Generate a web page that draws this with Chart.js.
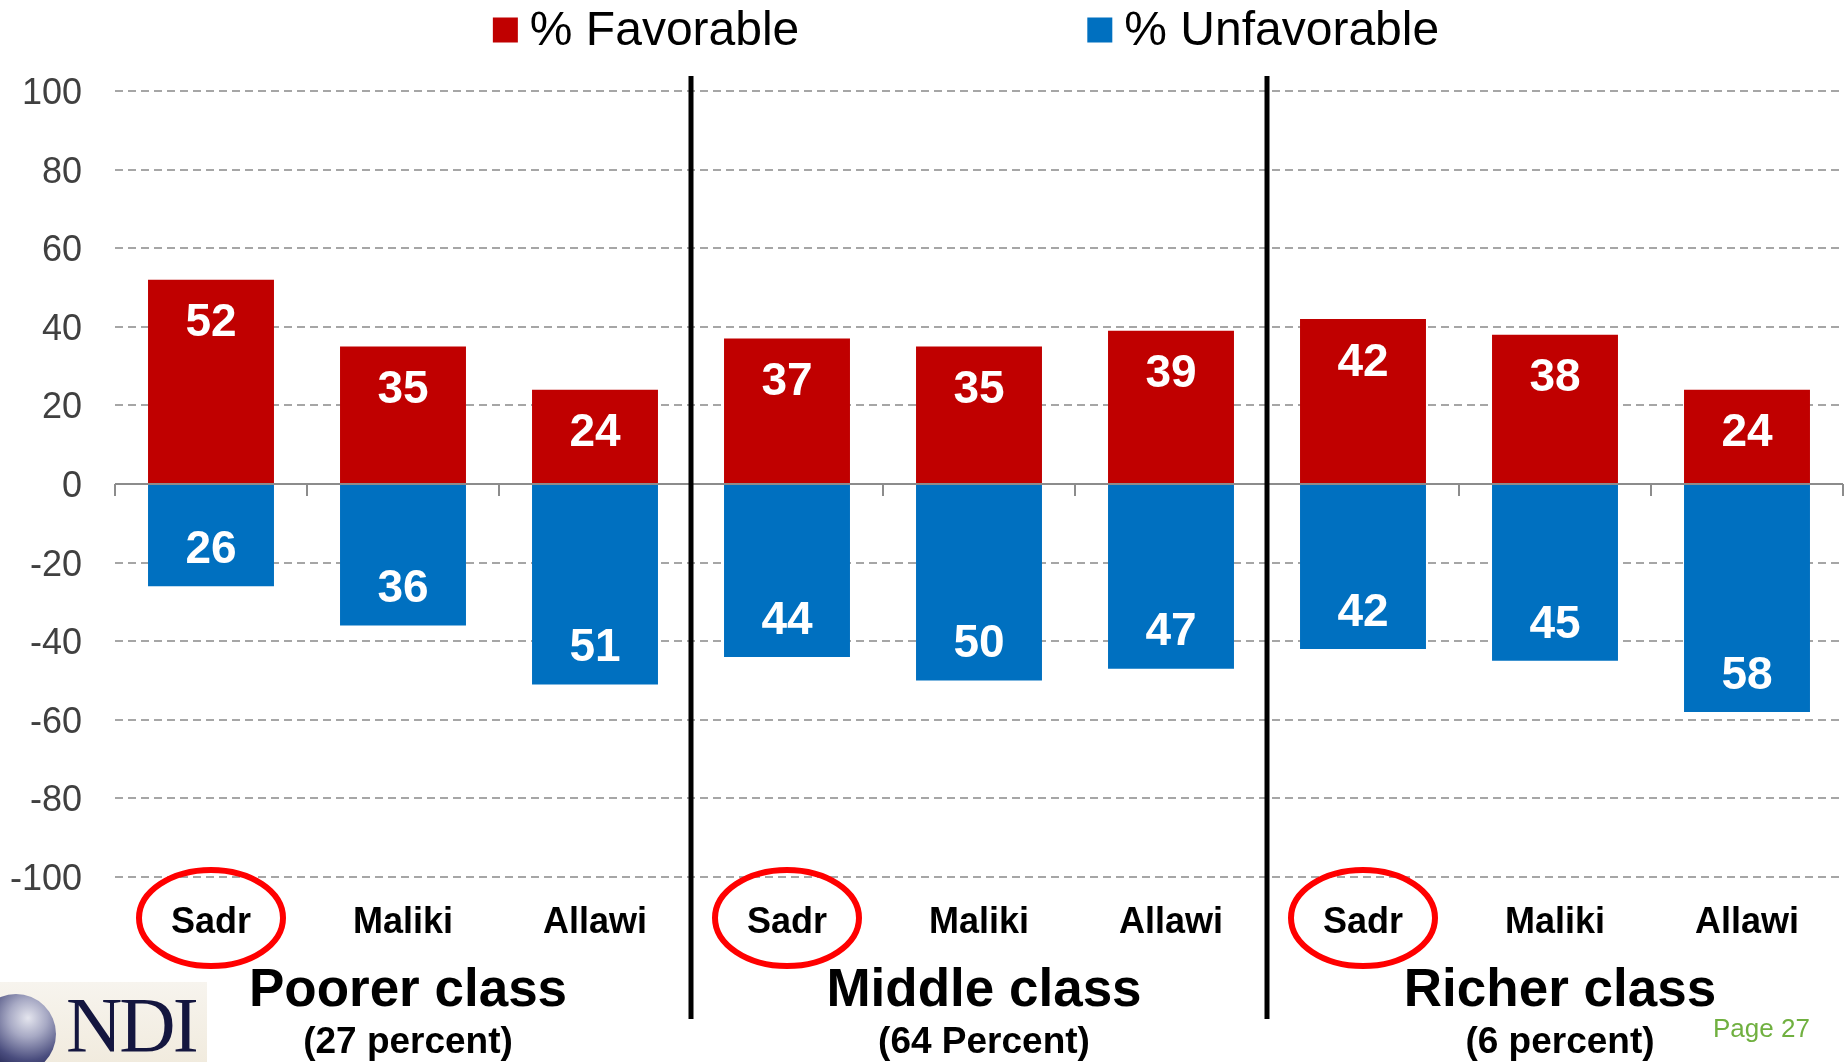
<!DOCTYPE html>
<html>
<head>
<meta charset="utf-8">
<script src="https://cdn.jsdelivr.net/npm/chart.js@4.4.0/dist/chart.umd.min.js"></script>
<style>
  html, body { margin: 0; padding: 0; background: #fff; }
  #wrap { position: relative; width: 1845px; height: 1062px; overflow: hidden; }
  #logo {
    position: absolute; left: 0; top: 982px; width: 207px; height: 80px; overflow: hidden;
    background: linear-gradient(180deg, #f7f4ee 0%, #f1ebde 100%);
  }
  #globe {
    position: absolute; left: -24px; top: 12px; width: 80px; height: 80px; border-radius: 50%;
    background: radial-gradient(circle at 65% 30%, #e4e5ee 0%, #a7a9c4 25%, #4a4d7e 55%, #1c1e4a 80%, #12143a 100%);
  }
  #ndi {
    position: absolute; left: 66px; top: 4px; font-family: "Liberation Serif", "DejaVu Serif", serif;
    font-size: 78px; line-height: 78px; color: #14163f; letter-spacing: -3px;
  }
</style>
</head>
<body>
<div id="wrap">
  <canvas id="chart" width="1845" height="1062"></canvas>
  <div id="logo"><div id="globe"></div><div id="ndi">NDI</div></div>
</div>
<script>
// Daten
const categories = ["Sadr", "Maliki", "Allawi", "Sadr", "Maliki", "Allawi", "Sadr", "Maliki", "Allawi"];
const favorable = [52, 35, 24, 37, 35, 39, 42, 38, 24];
const unfavorable = [26, 36, 51, 44, 50, 47, 42, 45, 58];
const groupTitles = ["Poorer class", "Middle class", "Richer class"];
const groupShares = ["(27 percent)", "(64 Percent)", "(6 percent)"];
const seriesNames = ["% Favorable", "% Unfavorable"];
const yMin = -100;
const yMax = 100;
const yStep = 20;
const highlighted = "Sadr";
const pageLabel = "Page 27";

const FONT = '"Liberation Sans", Arial, sans-serif';
const RED = "#C00000";
const BLUE = "#0070C0";
const GRID = "#a6a6a6";

// Zeichnet alles, was Excel zusätzlich auf der Folie hat
const decorations = {
    id: "decorations",
    afterDatasetsDraw(chart) {
        const { ctx, chartArea, scales } = chart;
        const x = scales.x;
        const y = scales.y;
        const step = x.getPixelForValue(1) - x.getPixelForValue(0);
        const y0 = y.getPixelForValue(0);

        ctx.save();

        // Nulllinie + Tickmarks an Kategoriegrenzen
        ctx.strokeStyle = "#8c8c8c";
        ctx.lineWidth = 2;
        ctx.beginPath();
        ctx.moveTo(chartArea.left, y0);
        ctx.lineTo(chartArea.right, y0);
        for (let i = 0; i <= categories.length; i++) {
            const bx = Math.round(x.getPixelForValue(0) - step / 2 + i * step);
            ctx.moveTo(bx, y0);
            ctx.lineTo(bx, y0 + 12);
        }
        ctx.stroke();

        // Datenbeschriftungen
        ctx.fillStyle = "#fff";
        ctx.font = "bold 46px " + FONT;
        ctx.textAlign = "center";
        ctx.textBaseline = "middle";
        chart.data.datasets.forEach((ds, di) => {
            chart.getDatasetMeta(di).data.forEach((bar, i) => {
                const v = ds.data[i];
                const ly = v >= 0 ? bar.y + 44 : bar.y - 36;
                ctx.fillText(String(Math.abs(v)), bar.x, ly);
            });
        });

        // Trennlinien zwischen den Gruppen
        ctx.strokeStyle = "#000";
        ctx.lineWidth = 5;
        ctx.beginPath();
        for (let g = 1; g < groupTitles.length; g++) {
            const sx = x.getPixelForValue(g * 3) - step / 2;
            ctx.moveTo(sx, chartArea.top - 15);
            ctx.lineTo(sx, chartArea.bottom + 142);
        }
        ctx.stroke();

        // rote Ellipsen um die hervorgehobenen Namen
        ctx.strokeStyle = "#ff0000";
        ctx.lineWidth = 6;
        categories.forEach((c, i) => {
            if (c !== highlighted) return;
            ctx.beginPath();
            ctx.ellipse(x.getPixelForValue(i), chartArea.bottom + 41, 72, 48, 0, 0, Math.PI * 2);
            ctx.stroke();
        });

        // Gruppentitel
        ctx.fillStyle = "#000";
        groupTitles.forEach((t, g) => {
            const gx = x.getPixelForValue(g * 3 + 1) + 5;
            ctx.font = "bold 53px " + FONT;
            ctx.fillText(t, gx, chartArea.bottom + 114);
            ctx.font = "bold 37px " + FONT;
            ctx.fillText(groupShares[g], gx, chartArea.bottom + 166);
        });

        // Legende oben
        ctx.font = "48px " + FONT;
        ctx.textAlign = "left";
        const box = 25, gapBox = 12, gapItems = 288;
        const widths = seriesNames.map((n) => box + gapBox + ctx.measureText(n).width);
        const total = widths[0] + widths[1] + gapItems;
        let lx = 966 - total / 2;
        const ly = 30;
        chart.data.datasets.forEach((ds, di) => {
            ctx.fillStyle = ds.backgroundColor;
            ctx.fillRect(lx, ly - box / 2, box, box);
            ctx.fillStyle = "#000";
            ctx.fillText(ds.label, lx + box + gapBox, ly + 2);
            lx += widths[di] + gapItems;
        });

        // Seitenzahl
        ctx.fillStyle = "#70b040";
        ctx.font = "26px " + FONT;
        ctx.fillText(pageLabel, 1713, 1030);

        ctx.restore();
    },
};

const canvas = document.getElementById("chart");

new Chart(canvas.getContext("2d"), {
    type: "bar",
    data: {
        labels: categories,
        datasets: [
            {
                label: seriesNames[0],
                data: favorable,
                backgroundColor: RED,
            },
            {
                label: seriesNames[1],
                data: unfavorable.map((v) => -v),
                backgroundColor: BLUE,
            },
        ],
    },
    options: {
        responsive: false,
        maintainAspectRatio: false,
        animation: false,
        devicePixelRatio: 1,
        layout: { padding: { top: 91, right: 2, bottom: 0, left: 0 } },
        datasets: {
            bar: { categoryPercentage: 1, barPercentage: 0.656 },
        },
        plugins: {
            legend: { display: false },
            tooltip: { enabled: false },
        },
        scales: {
            x: {
                stacked: true,
                grid: { display: false, drawTicks: false },
                border: { display: false },
                ticks: {
                    color: "#000",
                    font: { family: FONT, size: 36, weight: "bold" },
                    padding: 24,
                    maxRotation: 0,
                    autoSkip: false,
                },
                afterFit(scale) { scale.height = 185; },
            },
            y: {
                stacked: true,
                min: yMin,
                max: yMax,
                grid: { color: GRID, lineWidth: 2, drawTicks: false },
                border: { display: false, dash: [8, 5] },
                ticks: {
                    stepSize: yStep,
                    color: "#404040",
                    font: { family: FONT, size: 36 },
                    padding: 33,
                    labelOffset: 3,
                },
                afterFit(scale) { scale.width = 115; },
            },
        },
    },
    plugins: [decorations],
});
</script>
</body>
</html>
